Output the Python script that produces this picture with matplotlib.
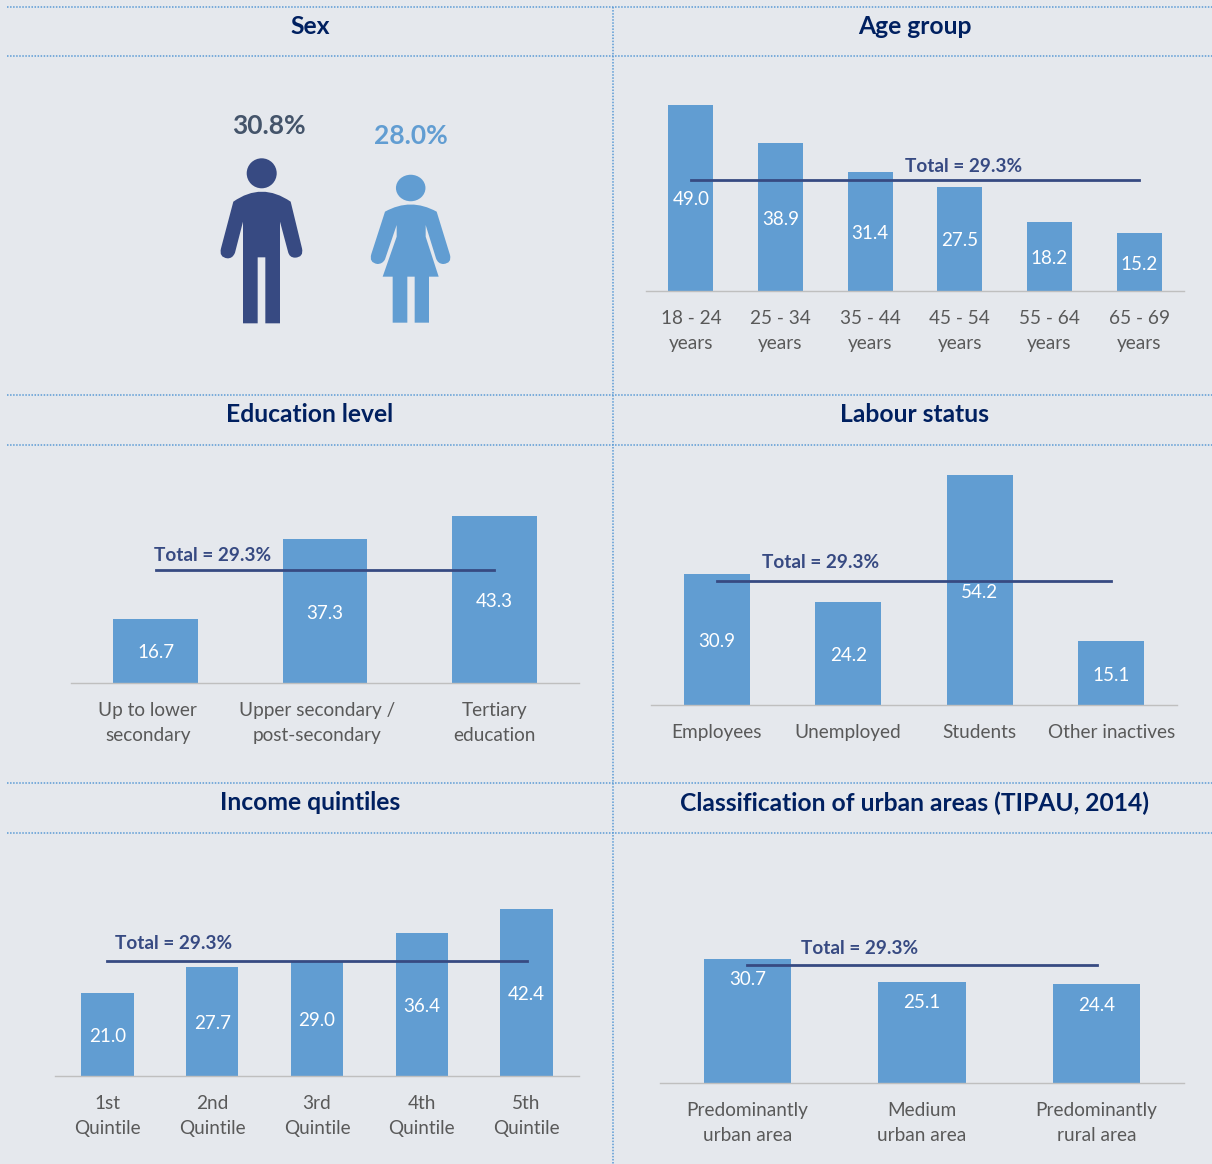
import matplotlib
matplotlib.use("Agg")
import matplotlib.pyplot as plt
from matplotlib.path import Path
from matplotlib.patches import PathPatch, Ellipse

W, H = 1212, 1164
plt.rcParams['font.family'] = ['Lato', 'DejaVu Sans']

# data
total = 29.3
female = "28.0%"
male = "30.8%"

age_labels = ["18 - 24\nyears", "25 - 34\nyears", "35 - 44\nyears", "45 - 54\nyears", "55 - 64\nyears", "65 - 69\nyears"]
age_values = [49.0, 38.9, 31.4, 27.5, 18.2, 15.2]

edu_labels = ["Up to lower\nsecondary", "Upper secondary /\npost-secondary", "Tertiary\neducation"]
edu_values = [16.7, 37.3, 43.3]

lab_labels = ["Employees", "Unemployed", "Students", "Other inactives"]
lab_values = [30.9, 24.2, 54.2, 15.1]

inc_labels = ["1st\nQuintile", "2nd\nQuintile", "3rd\nQuintile", "4th\nQuintile", "5th\nQuintile"]
inc_values = [21.0, 27.7, 29.0, 36.4, 42.4]

urb_labels = ["Predominantly\nurban area", "Medium\nurban area", "Predominantly\nrural area"]
urb_values = [30.7, 25.1, 24.4]

BG = "#e5e8ed"
BAR = "#619dd2"
NAVY = "#374a82"
TITLE = "#002060"
GREY = "#595959"
DOT = "#5b9bd5"

fig = plt.figure(figsize=(W / 100, H / 100), dpi=100, facecolor=BG)

# overlay in pixel coords (y goes down) for dividers, titles, icons
ov = fig.add_axes([0, 0, 1, 1], zorder=0)
ov.set_xlim(0, W)
ov.set_ylim(H, 0)
ov.axis("off")

for y in [7, 56, 395, 445, 783, 833]:
    ov.plot([7, W], [y, y], color=DOT, lw=1.1, ls=(0, (1, 1)))
ov.plot([612.6, 612.6], [7, H], color=DOT, lw=1.1, ls=(0, (1, 1)))

titles = [("Sex", 310, 26), ("Age group", 915, 26), ("Education level", 310, 415),
          ("Labour status", 915, 415), ("Income quintiles", 310, 803),
          ("Classification of urban areas (TIPAU, 2014)", 915, 803)]
for t, x, y in titles:
    ov.text(x, y, t, color=TITLE, fontsize=17.7, fontweight="bold", ha="center", va="center")


def panel(left, right, base, px_per_unit, labels, values, total_xy, inside_end=False, shift=None):
    # axes runs from the baseline up, scaled so one unit = px_per_unit pixels
    height = 300
    ax = fig.add_axes([left / W, (H - base) / H, (right - left) / W, height / H], zorder=2)
    ax.patch.set_alpha(0)
    n = len(values)
    x = list(range(n))
    ax.bar(x, values, width=0.5, color=BAR)
    ax.plot([0, n - 1], [total, total], color=NAVY, lw=2)
    ax.set_xlim(-0.5, n - 0.5)
    ax.set_ylim(0, height / px_per_unit)
    for s in ["top", "left", "right"]:
        ax.spines[s].set_visible(False)
    ax.spines["bottom"].set_color("#bfbfbf")
    ax.spines["bottom"].set_linewidth(1)
    ax.set_yticks([])
    ax.set_xticks(x)
    ax.set_xticklabels(labels, fontsize=13.7, color=GREY, linespacing=1.55, va="top")
    ax.tick_params(axis="x", length=0, pad=14)
    for i, v in enumerate(values):
        if inside_end:
            ax.annotate(f"{v:.1f}", (i, v), xytext=(0, -15), textcoords="offset points",
                        color="white", fontsize=13.5, ha="center", va="center")
        else:
            ax.annotate(f"{v:.1f}", (i, v / 2), xytext=(0, -1.5), textcoords="offset points",
                        color="white", fontsize=13.5, ha="center", va="center")
    ov.text(total_xy[0], total_xy[1], f"Total = {total}%", color=NAVY, fontsize=13.7,
            fontweight="bold", ha="center", va="center")
    if shift:
        for lab, dx in zip(ax.get_xticklabels(), shift):
            lab.set_transform(lab.get_transform() + matplotlib.transforms.Affine2D().translate(dx, 0))
    return ax


panel(646, 1184, 291, 3.8, age_labels, age_values, (963.5, 166.5))
panel(71, 579, 683, 3.857, edu_labels, edu_values, (212.5, 555.5), shift=[-8, -8, 0])
panel(651, 1177, 705, 4.24, lab_labels, lab_values, (820.5, 562.5))
panel(55, 579, 1076, 3.94, inc_labels, inc_values, (173.5, 943.5))
panel(660, 1184, 1083, 4.04, urb_labels, urb_values, (859.5, 948.5), inside_end=True)

# person icons, outlines traced on the picture


def traced(points):
    verts, codes = [], []
    for code, px, py in points:
        verts.append((200 + px / 3, 90 + py / 3))
        codes.append(code)
    return Path(verts, codes)


M, L, C = Path.MOVETO, Path.LINETO, Path.CURVE3
man = [(M, 100, 335), (C, 185, 275), (C, 272, 335), (L, 306, 475), (C, 312, 502), (C, 285, 503),
       (C, 268, 503), (C, 264, 485), (L, 240, 395), (L, 240, 700), (L, 196, 700), (L, 196, 502),
       (L, 173, 502), (L, 173, 700), (L, 129, 700), (L, 129, 395), (L, 105, 488), (C, 98, 506),
       (C, 82, 505), (C, 56, 502), (C, 63, 475), (L, 100, 335)]
woman = [(M, 555, 365), (C, 632, 322), (C, 710, 365), (L, 750, 495), (C, 756, 520), (C, 730, 522),
         (C, 714, 522), (C, 708, 505), (L, 677, 405), (L, 677, 440), (L, 716, 560), (L, 687, 560),
         (L, 687, 698), (L, 644, 698), (L, 644, 560), (L, 622, 560), (L, 622, 698), (L, 578, 698),
         (L, 578, 560), (L, 548, 560), (L, 590, 440), (L, 590, 405), (L, 555, 508), (C, 548, 522),
         (C, 532, 522), (C, 506, 518), (C, 514, 492), (L, 555, 365)]

ov.add_patch(PathPatch(traced(man), facecolor=NAVY, edgecolor="none"))
ov.add_patch(Ellipse((261.7, 173.3), 30, 30, facecolor=NAVY, edgecolor="none"))
ov.add_patch(PathPatch(traced(woman), facecolor=BAR, edgecolor="none"))
ov.add_patch(Ellipse((410.7, 188), 29.5, 26.5, facecolor=BAR, edgecolor="none"))

ov.text(269, 125.5, male, color="#44546a", fontsize=19, fontweight="bold", ha="center", va="center")
ov.text(411, 136.5, female, color=BAR, fontsize=19, fontweight="bold", ha="center", va="center")

fig.savefig("out.png", dpi=100, facecolor=BG)
